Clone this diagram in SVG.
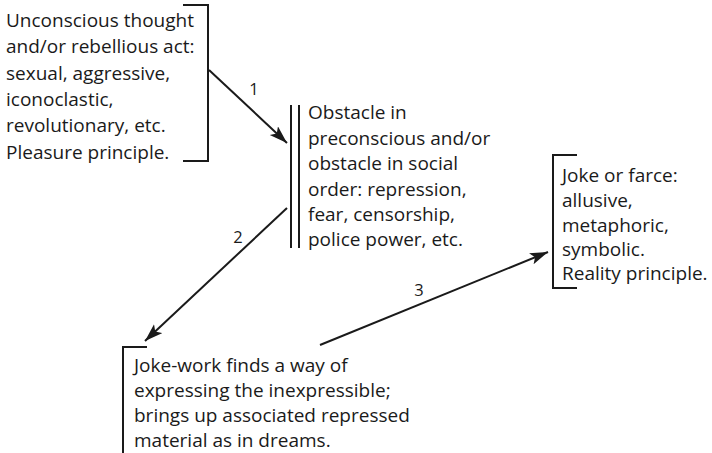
<svg xmlns="http://www.w3.org/2000/svg" width="712" height="453" viewBox="0 0 712 453">
<defs>
<style>
.t{font-family:"Open Sans","Noto Sans",sans-serif;font-size:19px;fill:#1a1a1a}
.n{font-family:"Open Sans","Noto Sans",sans-serif;font-size:16.5px;fill:#1a1a1a;text-anchor:middle}
.b{fill:none;stroke:#1a1a1a;stroke-width:2}
.c{fill:none;stroke:#1a1a1a;stroke-width:2}
</style>
<marker id="ah" markerUnits="userSpaceOnUse" markerWidth="20" markerHeight="14" refX="18" refY="6" orient="auto">
<path d="M0,0 L18,6 L0,12 L4,6 Z" fill="#1a1a1a"/>
</marker>
</defs>
<rect width="712" height="453" fill="#fff"/>
<g id="node1">
<path class="b" d="M183,5 H208 V161 H183"/>
<text class="t" x="6" y="27">Unconscious thought</text>
<text class="t" x="6" y="53">and/or rebellious act:</text>
<text class="t" x="6" y="80">sexual, aggressive,</text>
<text class="t" x="6" y="106">iconoclastic,</text>
<text class="t" x="6" y="132">revolutionary, etc.</text>
<text class="t" x="6" y="159">Pleasure principle.</text>
</g>
<g id="node2">
<path class="b" d="M291,105 V248 M299,105 V248"/>
<text class="t" x="308" y="119">Obstacle in</text>
<text class="t" x="308" y="144.5">preconscious and/or</text>
<text class="t" x="308" y="170">obstacle in social</text>
<text class="t" x="308" y="195.5">order: repression,</text>
<text class="t" x="308" y="221">fear, censorship,</text>
<text class="t" x="308" y="246">police power, etc.</text>
</g>
<g id="node3">
<path class="b" d="M577,155 H553 V288 H577"/>
<text class="t" x="562" y="182">Joke or farce:</text>
<text class="t" x="562" y="207">allusive,</text>
<text class="t" x="562" y="231.5">metaphoric,</text>
<text class="t" x="562" y="256">symbolic.</text>
<text class="t" x="562" y="280">Reality principle.</text>
</g>
<g id="node4">
<path class="b" d="M147,347 H123 V453"/>
<text class="t" x="134" y="372">Joke-work finds a way of</text>
<text class="t" x="134" y="397">expressing the inexpressible;</text>
<text class="t" x="134" y="422">brings up associated repressed</text>
<text class="t" x="134" y="447">material as in dreams.</text>
</g>
<g id="connectors">
<line class="c" x1="209" y1="70" x2="287" y2="143" marker-end="url(#ah)"/>
<line class="c" x1="287" y1="208" x2="145" y2="341" marker-end="url(#ah)"/>
<line class="c" x1="320" y1="345" x2="548" y2="252" marker-end="url(#ah)"/>
<text class="n" x="254" y="95">1</text>
<text class="n" x="238" y="243">2</text>
<text class="n" x="419" y="296">3</text>
</g>
</svg>
